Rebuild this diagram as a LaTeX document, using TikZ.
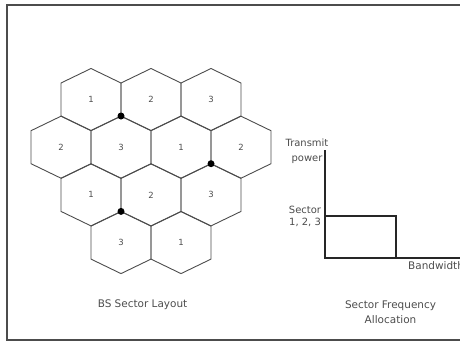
\documentclass[tikz,border=0pt]{standalone}
\usepackage{fontspec}
\setmainfont{DejaVu Sans}
\begin{document}
\begin{tikzpicture}[x=1bp,y=-1bp,
  hexline/.style={draw=black!70,line width=0.9bp},
  axis/.style={draw=black!85,line width=1.2bp},
  lbl/.style={text=black!70,font=\fontsize{8.5}{9}\selectfont,inner sep=0pt},
  captext/.style={text=black!70,font=\fontsize{10.5}{15}\selectfont,align=center,inner sep=0pt},
  sdot/.style={fill=black,draw=none,circle,minimum size=7bp,inner sep=0pt}]
\useasboundingbox (0,0) rectangle (460,344);
\draw[draw=black!70,line width=2bp] (470,5) -- (7,5) -- (7,340) -- (470,340);
% hexagons
\foreach \cx/\cy/\t [count=\i] in {91/99.5/1,151/99.5/2,211/99.5/3,
  61/147.2/2,121/147.2/3,181/147.2/1,241/147.2/2,
  91/194.9/1,151/194.9/2,211/194.9/3,
  121/242.6/3,181/242.6/1}{
  \draw[hexline] (\cx,\cy-31) -- (\cx+30,\cy-16.5) -- (\cx+30,\cy+16.5) -- (\cx,\cy+31)
     -- (\cx-30,\cy+16.5) -- (\cx-30,\cy-16.5) -- cycle;
  \node[lbl] (h\i) at (\cx,\cy) {\t};
}
\node[sdot] (d1) at (121,116) {};
\node[sdot] (d2) at (211,163.7) {};
\node[sdot] (d3) at (121,211.4) {};
\node[captext] (lay) at (142.5,305) {BS Sector Layout};
% allocation chart
\coordinate (O) at (325,258);
\coordinate (Ytop) at (325,150);
\coordinate (Xend) at (470,258);
\coordinate (R1) at (325,216);
\coordinate (R2) at (396,216);
\coordinate (R3) at (396,258);
\draw[axis] (Ytop) -- (O) -- (Xend);
\draw[axis] (R1) -- (R2) -- (R3);
\node[captext,font=\fontsize{10}{15}\selectfont] (tp) at (307,151) {Transmit\\power};
\node[captext,font=\fontsize{10}{12}\selectfont] (sec) at (305,216) {Sector\\1, 2, 3};
\node[captext,anchor=west,font=\fontsize{10.5}{12}\selectfont] (bw) at (408,266) {Bandwidth};
\node[captext] (alloc) at (390.5,312.5) {Sector Frequency\\Allocation};
\end{tikzpicture}
\end{document}
